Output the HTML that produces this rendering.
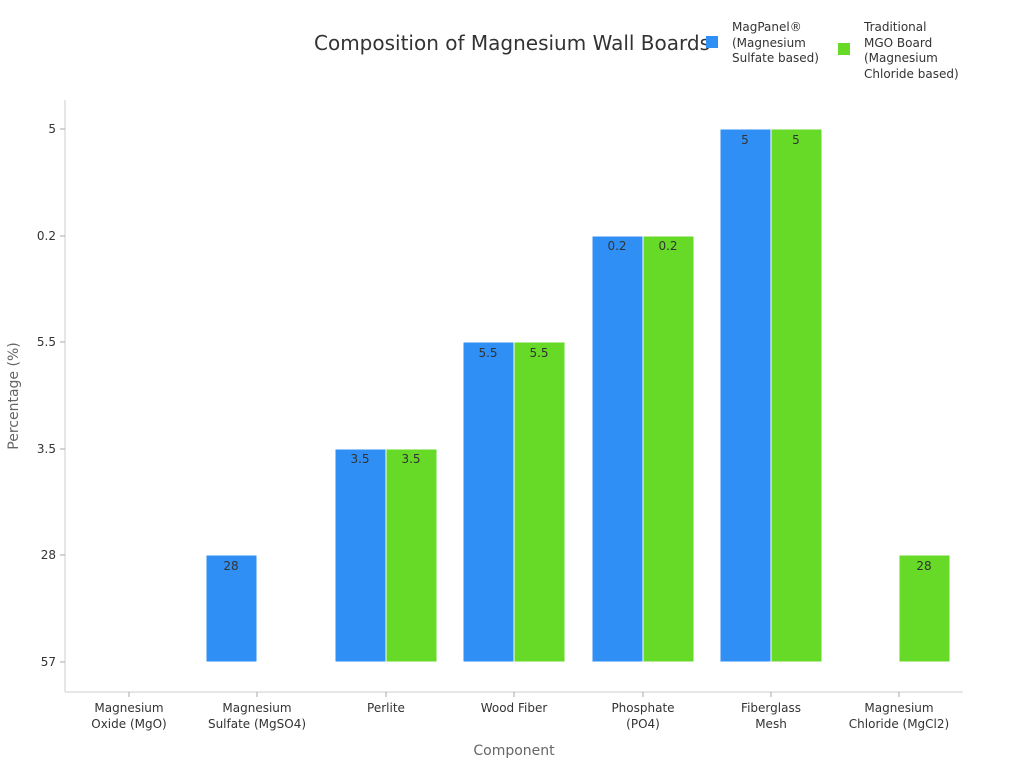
<!DOCTYPE html>
<html><head><meta charset="utf-8"><style>
body{margin:0;background:#fff;}
svg{display:block;font-family:"DejaVu Sans","Liberation Sans",sans-serif;}
</style></head><body>
<svg width="1024" height="768" viewBox="0 0 1024 768">
<text x="512" y="50" text-anchor="middle" font-size="20" fill="#333">Composition of Magnesium Wall Boards</text>
<rect x="706" y="36" width="12" height="12" fill="#2f8ff5"/>
<text font-size="12" fill="#333"><tspan x="732" y="31">MagPanel®</tspan><tspan x="732" y="47">(Magnesium</tspan><tspan x="732" y="62">Sulfate based)</tspan></text>
<rect x="838" y="43" width="12" height="12" fill="#66da26"/>
<text font-size="12" fill="#333"><tspan x="864" y="31">Traditional</tspan><tspan x="864" y="47">MGO Board</tspan><tspan x="864" y="62">(Magnesium</tspan><tspan x="864" y="78">Chloride based)</tspan></text>
<line x1="65" y1="100" x2="65" y2="692" stroke="#ccc"/>
<line x1="65" y1="692" x2="963" y2="692" stroke="#ccc"/>
<g font-size="12" fill="#333" text-anchor="end">
<text x="56" y="133">5</text><text x="56" y="240">0.2</text><text x="56" y="346">5.5</text><text x="56" y="453">3.5</text><text x="56" y="559">28</text><text x="56" y="666">57</text>
</g>
<g stroke="#aaa"><line x1="60" y1="129" x2="65" y2="129"/><line x1="60" y1="236" x2="65" y2="236"/><line x1="60" y1="342" x2="65" y2="342"/><line x1="60" y1="449" x2="65" y2="449"/><line x1="60" y1="555" x2="65" y2="555"/><line x1="60" y1="662" x2="65" y2="662"/></g>
<text transform="translate(18,396) rotate(-90)" text-anchor="middle" font-size="14" fill="#666">Percentage (%)</text>
<g stroke="#fff" stroke-width="1">
<rect x="206" y="555" width="51" height="107" fill="#2f8ff5"/>
<rect x="335" y="449" width="51" height="213" fill="#2f8ff5"/><rect x="386" y="449" width="51" height="213" fill="#66da26"/>
<rect x="463" y="342" width="51" height="320" fill="#2f8ff5"/><rect x="514" y="342" width="51" height="320" fill="#66da26"/>
<rect x="592" y="236" width="51" height="426" fill="#2f8ff5"/><rect x="643" y="236" width="51" height="426" fill="#66da26"/>
<rect x="720" y="129" width="51" height="533" fill="#2f8ff5"/><rect x="771" y="129" width="51" height="533" fill="#66da26"/>
<rect x="899" y="555" width="51" height="107" fill="#66da26"/>
</g>
<g font-size="12" fill="#333" text-anchor="middle">
<text x="231" y="570">28</text>
<text x="360" y="463">3.5</text><text x="411" y="463">3.5</text>
<text x="488" y="357">5.5</text><text x="539" y="357">5.5</text>
<text x="617" y="250">0.2</text><text x="668" y="250">0.2</text>
<text x="745" y="144">5</text><text x="796" y="144">5</text>
<text x="924" y="570">28</text>
</g>
<g stroke="#aaa"><line x1="129" y1="692" x2="129" y2="697"/><line x1="257" y1="692" x2="257" y2="697"/><line x1="386" y1="692" x2="386" y2="697"/><line x1="514" y1="692" x2="514" y2="697"/><line x1="643" y1="692" x2="643" y2="697"/><line x1="771" y1="692" x2="771" y2="697"/><line x1="899" y1="692" x2="899" y2="697"/></g>
<g font-size="12" fill="#333" text-anchor="middle">
<text x="129" y="712">Magnesium</text><text x="129" y="728">Oxide (MgO)</text>
<text x="257" y="712">Magnesium</text><text x="257" y="728">Sulfate (MgSO4)</text>
<text x="386" y="712">Perlite</text>
<text x="514" y="712">Wood Fiber</text>
<text x="643" y="712">Phosphate</text><text x="643" y="728">(PO4)</text>
<text x="771" y="712">Fiberglass</text><text x="771" y="728">Mesh</text>
<text x="899" y="712">Magnesium</text><text x="899" y="728">Chloride (MgCl2)</text>
</g>
<text x="514" y="755" text-anchor="middle" font-size="14" fill="#666">Component</text>
</svg>
</body></html>
